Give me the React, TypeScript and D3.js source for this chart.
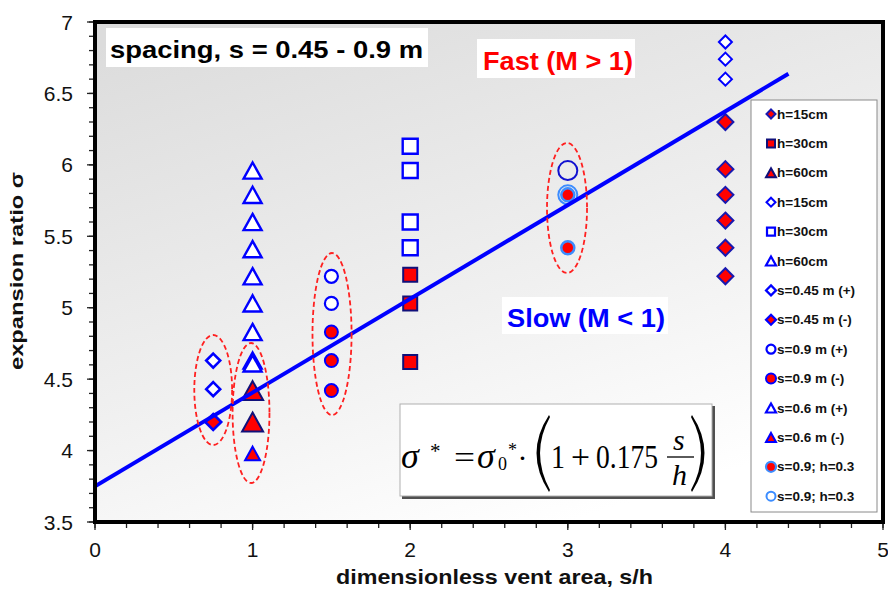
import React from 'react';
import * as d3 from 'd3';

const W = 888;
const H = 589;
const PLOT = { left: 95, right: 883, top: 22, bottom: 522 };

const X_DOMAIN: [number, number] = [0, 5];
const Y_DOMAIN: [number, number] = [3.5, 7];
const X_TICKS = [0, 1, 2, 3, 4, 5];
const X_TICK_LABELS = ['0', '1', '2', '3', '4', '5'];
const Y_TICKS = [3.5, 4, 4.5, 5, 5.5, 6, 6.5, 7];
const Y_TICK_LABELS = ['3.5', '4', '4.5', '5', '5.5', '6', '6.5', '7'];
const X_MINOR_STEP = 0.2;
const Y_MINOR_STEP = 0.1;

// data series: [s/h, sigma]
const h15Filled = [[4, 6.3], [4, 5.97], [4, 5.79], [4, 5.61], [4, 5.42], [4, 5.22]];
const h30Filled = [[2, 5.23], [2, 5.03], [2, 4.62]];
const h60Filled = [[1, 4.42], [1, 4.2]];
const h15Open = [[4, 6.86], [4, 6.74], [4, 6.6]];
const h30Open = [[2, 6.13], [2, 5.96], [2, 5.6], [2, 5.42]];
const h60Open = [[1, 4.61]];
const s045Plus = [[0.75, 4.63], [0.75, 4.43]];
const s045Minus = [[0.75, 4.2]];
const s09Plus = [[1.5, 5.22], [1.5, 5.03]];
const s09PlusLarge = [[3, 5.96]];
const s09Minus = [[1.5, 4.83], [1.5, 4.63], [1.5, 4.42]];
const s06Plus = [[1, 5.96], [1, 5.79], [1, 5.6], [1, 5.41], [1, 5.22], [1, 5.03], [1, 4.83], [1, 4.63]];
const s06Minus = [[1, 3.98]];
const s09h03Open = [[3, 5.79]];
const s09h03Filled = [[3, 5.79], [3, 5.42]];

// fit: sigma* = sigma0 * (1 + 0.175 s/h)
const SIGMA0 = 3.75;
const FIT_COEF = 0.175;
const FIT_X = [0, 4.4];

// dashed ellipses in data units: [cx, cy, rx, ry]
const ELLIPSES = [
  [0.75, 4.424, 0.12, 0.385],
  [0.99, 4.263, 0.117, 0.49],
  [1.504, 4.816, 0.124, 0.567],
  [2.995, 5.698, 0.127, 0.455],
];

const LEGEND_LABELS = [
  'h=15cm', 'h=30cm', 'h=60cm', 'h=15cm', 'h=30cm', 'h=60cm',
  's=0.45 m (+)', 's=0.45 m (-)', 's=0.9 m (+)', 's=0.9 m (-)',
  's=0.6 m (+)', 's=0.6 m (-)', 's=0.9; h=0.3', 's=0.9; h=0.3',
];

const BLUE = '#0000ff';
const NAVY = '#10107a';
const RED = '#ff0000';
const LBLUE = '#3b8cff';

type Style = { shape: string; size: number; fill: string; stroke: string; sw: number; lsize: number };

const STYLES: Style[] = [
  { shape: 'diamond', size: 16, fill: RED, stroke: '#1818b0', sw: 2, lsize: 9 },
  { shape: 'square', size: 14, fill: RED, stroke: NAVY, sw: 2, lsize: 8 },
  { shape: 'triangle', size: 21, fill: RED, stroke: NAVY, sw: 2, lsize: 10 },
  { shape: 'diamond', size: 13, fill: '#ffffff', stroke: BLUE, sw: 2, lsize: 9 },
  { shape: 'square', size: 15, fill: '#ffffff', stroke: BLUE, sw: 2.4, lsize: 8 },
  { shape: 'triangle', size: 18, fill: '#ffffff', stroke: BLUE, sw: 2.4, lsize: 10 },
  { shape: 'diamond', size: 14, fill: '#ffffff', stroke: BLUE, sw: 2.6, lsize: 10 },
  { shape: 'diamond', size: 16, fill: RED, stroke: BLUE, sw: 2.6, lsize: 10 },
  { shape: 'circle', size: 13, fill: '#ffffff', stroke: BLUE, sw: 2.2, lsize: 9 },
  { shape: 'circle', size: 13, fill: RED, stroke: BLUE, sw: 2, lsize: 10 },
  { shape: 'triangle', size: 18, fill: '#ffffff', stroke: BLUE, sw: 2.4, lsize: 10 },
  { shape: 'triangle', size: 15, fill: RED, stroke: BLUE, sw: 2, lsize: 10 },
  { shape: 'circle', size: 13, fill: RED, stroke: LBLUE, sw: 2.5, lsize: 10 },
  { shape: 'circle', size: 19, fill: 'none', stroke: LBLUE, sw: 2, lsize: 9 },
];

const SERIES: [number[][], number][] = [
  [s09h03Open, 13],
  [h15Open, 3],
  [h30Open, 4],
  [s06Plus, 10],
  [h60Open, 5],
  [s045Plus, 6],
  [s09Plus, 8],
  [h15Filled, 0],
  [h30Filled, 1],
  [h60Filled, 2],
  [s045Minus, 7],
  [s09Minus, 9],
  [s06Minus, 11],
  [s09h03Filled, 12],
];

function markerPath(shape: string, s: number): string {
  const h = s / 2;
  if (shape === 'diamond') return `M0,${-h}L${h},0L0,${h}L${-h},0Z`;
  if (shape === 'square') return `M${-h},${-h}H${h}V${h}H${-h}Z`;
  if (shape === 'triangle') return `M0,${-h * 0.9}L${h},${h * 0.9}L${-h},${h * 0.9}Z`;
  const p = d3.path();
  p.arc(0, 0, h, 0, Math.PI * 2);
  p.closePath();
  return p.toString();
}

const SANS = '"Liberation Sans", Arial, sans-serif';
const SERIF = '"Liberation Serif", "Times New Roman", serif';

export default function App() {
  const x = d3.scaleLinear().domain(X_DOMAIN).range([PLOT.left, PLOT.right]);
  const y = d3.scaleLinear().domain(Y_DOMAIN).range([PLOT.bottom, PLOT.top]);
  const xMinor = d3.range(X_DOMAIN[0], X_DOMAIN[1] + 1e-9, X_MINOR_STEP);
  const yMinor = d3.range(Y_DOMAIN[0], Y_DOMAIN[1] + 1e-9, Y_MINOR_STEP);
  const fitLine = d3
    .line<number>()
    .x((d) => x(d))
    .y((d) => y(SIGMA0 * (1 + FIT_COEF * d)));

  const legendX = 751;
  const legendTop = 100;
  const legendW = 126;
  const legendH = 412;
  const legendStep = 29.4;

  return (
    <svg
      width={W}
      height={H}
      style={{ position: 'absolute', left: 0, top: 0, display: 'block', background: '#fff' }}
    >
      <defs>
        <linearGradient id="bg" x1="0.1" y1="0" x2="0.6" y2="1">
          <stop offset="0" stopColor="#dcdcdc" />
          <stop offset="0.6" stopColor="#f0f0f0" />
          <stop offset="1" stopColor="#ffffff" />
        </linearGradient>
        <clipPath id="plotClip">
          <rect x={PLOT.left} y={PLOT.top} width={PLOT.right - PLOT.left} height={PLOT.bottom - PLOT.top} />
        </clipPath>
      </defs>
      <rect x={0} y={0} width={W} height={H} fill="#ffffff" />
      <rect
        x={PLOT.left}
        y={PLOT.top}
        width={PLOT.right - PLOT.left}
        height={PLOT.bottom - PLOT.top}
        fill="url(#bg)"
      />

      {/* markers */}
      <g>
        {SERIES.map(([pts, si], k) => {
          const st = STYLES[si];
          const dpath = markerPath(st.shape, st.size);
          return pts.map((p, i) => (
            <path
              key={`${k}-${i}`}
              d={dpath}
              transform={`translate(${x(p[0])},${y(p[1])})`}
              fill={st.fill}
              stroke={st.stroke}
              strokeWidth={st.sw}
              strokeLinejoin="miter"
            />
          ));
        })}
        {s09PlusLarge.map((p, i) => (
          <path
            key={`big-${i}`}
            d={markerPath('circle', 19)}
            transform={`translate(${x(p[0])},${y(p[1])})`}
            fill="none"
            stroke="#1010d0"
            strokeWidth={2}
          />
        ))}
      </g>

      {/* fit line */}
      <path
        d={fitLine(FIT_X) || ''}
        fill="none"
        stroke="#0000ff"
        strokeWidth={4}
        clipPath="url(#plotClip)"
      />

      {/* ellipses */}
      {ELLIPSES.map((e, i) => (
        <ellipse
          key={i}
          cx={x(e[0])}
          cy={y(e[1])}
          rx={x(e[0] + e[2]) - x(e[0])}
          ry={y(e[1] - e[3]) - y(e[1])}
          fill="none"
          stroke="#ff2020"
          strokeWidth={1.8}
          strokeDasharray="5,3"
        />
      ))}

      {/* annotation boxes */}
      <rect x={106} y={28} width={322} height={39} fill="#ffffff" />
      <text
        x={110}
        y={58}
        fontFamily={SANS}
        fontWeight="bold"
        fontSize={24}
        fill="#000"
        textLength={313}
        lengthAdjust="spacingAndGlyphs"
      >
        spacing, s = 0.45 - 0.9 m
      </text>

      <rect x={477} y={39} width={158} height={39} fill="#ffffff" />
      <text
        x={483}
        y={70}
        fontFamily={SANS}
        fontWeight="bold"
        fontSize={25}
        fill="#ff0000"
        textLength={150}
        lengthAdjust="spacingAndGlyphs"
      >
        Fast (M &gt; 1)
      </text>

      <rect x={502} y={297} width={166} height={37} fill="#ffffff" />
      <text
        x={507}
        y={327}
        fontFamily={SANS}
        fontWeight="bold"
        fontSize={25}
        fill="#0000ff"
        textLength={158}
        lengthAdjust="spacingAndGlyphs"
      >
        Slow (M &lt; 1)
      </text>

      {/* formula box */}
      <rect x={402} y={406} width={313} height={93} fill="#505050" />
      <rect x={400} y={404} width={312} height={92} fill="#ffffff" stroke="#b0b0b0" strokeWidth={1} />
      <g fontFamily={SERIF} fill="#000">
        <text x={401} y={468} fontSize={36} fontStyle="italic">σ</text>
        <text x={430} y={458} fontSize={21}>*</text>
        <text x={454} y={468} fontSize={32} textLength={21} lengthAdjust="spacingAndGlyphs">=</text>
        <text x={477} y={468} fontSize={36} fontStyle="italic">σ</text>
        <text x={508} y={456} fontSize={18}>*</text>
        <text x={498} y={470} fontSize={18}>0</text>
        <text x={517.5} y={468} fontSize={30}>·</text>
        <path d="M549,415 Q524,453 549,492 L550,490 Q530,453 550,417 Z" />
        <text x={551} y={468} fontSize={34} textLength={14} lengthAdjust="spacingAndGlyphs">1</text>
        <text x={571} y={468} fontSize={34} textLength={19} lengthAdjust="spacingAndGlyphs">+</text>
        <text x={596} y={468} fontSize={34} textLength={62} lengthAdjust="spacingAndGlyphs">0.175</text>
        <text x={673} y={450} fontSize={30} fontStyle="italic">s</text>
        <line x1={667} x2={694} y1={457} y2={457} stroke="#000" strokeWidth={1.3} />
        <text x={672} y={485} fontSize={30} fontStyle="italic">h</text>
        <path d="M692,415 Q717,453 692,492 L691,490 Q711,453 691,417 Z" />
      </g>

      {/* legend */}
      <rect x={legendX} y={legendTop} width={legendW} height={legendH} fill="#ffffff" stroke="#8a8a8a" strokeWidth={1} />
      {LEGEND_LABELS.map((lab, i) => {
        const st = STYLES[i];
        const cy = legendTop + 14 + i * legendStep;
        return (
          <g key={i}>
            <path
              d={markerPath(st.shape, st.lsize)}
              transform={`translate(771,${cy})`}
              fill={st.fill === 'none' ? '#ffffff' : st.fill}
              stroke={st.stroke}
              strokeWidth={Math.min(st.sw, 2.2)}
            />
            <text x={777} y={cy + 4.6} fontFamily={SANS} fontWeight="bold" fontSize={13.5} fill="#111">
              {lab}
            </text>
          </g>
        );
      })}

      {/* axes ticks */}
      <g stroke="#222" strokeWidth={1.3}>
        {yMinor.map((v, i) => (
          <line key={`ym${i}`} x1={PLOT.left - 6} x2={PLOT.left} y1={y(v)} y2={y(v)} />
        ))}
        {Y_TICKS.map((v, i) => (
          <line key={`yM${i}`} x1={PLOT.left - 8} x2={PLOT.left} y1={y(v)} y2={y(v)} />
        ))}
        {xMinor.map((v, i) => (
          <line key={`xm${i}`} x1={x(v)} x2={x(v)} y1={PLOT.bottom} y2={PLOT.bottom + 6} />
        ))}
        {X_TICKS.map((v, i) => (
          <line key={`xM${i}`} x1={x(v)} x2={x(v)} y1={PLOT.bottom} y2={PLOT.bottom + 8} />
        ))}
      </g>
      {Y_TICKS.map((v, i) => (
        <text
          key={`yl${i}`}
          x={73}
          y={y(v)}
          dy="0.36em"
          textAnchor="end"
          fontFamily={SANS}
          fontSize={21}
          fill="#111"
        >
          {Y_TICK_LABELS[i]}
        </text>
      ))}
      {X_TICKS.map((v, i) => (
        <text
          key={`xl${i}`}
          x={x(v)}
          y={557}
          textAnchor="middle"
          fontFamily={SANS}
          fontSize={21}
          fill="#111"
        >
          {X_TICK_LABELS[i]}
        </text>
      ))}

      {/* frame */}
      <rect
        x={PLOT.left}
        y={PLOT.top}
        width={PLOT.right - PLOT.left}
        height={PLOT.bottom - PLOT.top}
        fill="none"
        stroke="#000"
        strokeWidth={4}
      />

      {/* axis titles */}
      <text
        x={336}
        y={584}
        fontFamily={SANS}
        fontWeight="bold"
        fontSize={21}
        fill="#111"
        textLength={317}
        lengthAdjust="spacingAndGlyphs"
      >
        dimensionless  vent area, s/h
      </text>
      <text
        transform="translate(23,271) rotate(-90)"
        x={0}
        y={0}
        textAnchor="middle"
        fontFamily={SANS}
        fontWeight="bold"
        fontSize={19}
        fill="#111"
        textLength={198}
        lengthAdjust="spacingAndGlyphs"
      >
        expansion ratio σ
      </text>
    </svg>
  );
}
